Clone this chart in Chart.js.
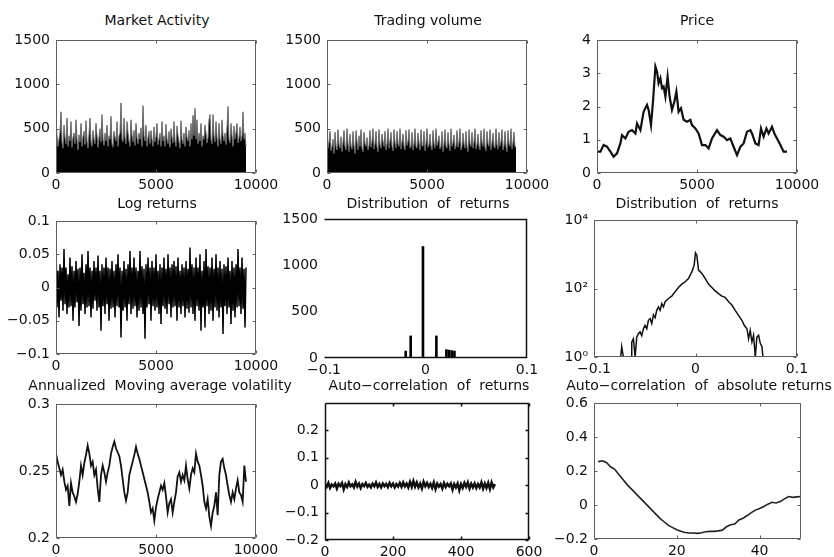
<!DOCTYPE html>
<html>
<head>
<meta charset="utf-8">
<script src="https://cdn.jsdelivr.net/npm/chart.js@4.4.0/dist/chart.umd.min.js"></script>
<style>
  body { margin: 0; background: #fff; }
  #fig { position: relative; width: 834px; height: 557px; overflow: hidden; background: #fff; }
  #fig canvas { position: absolute; }
  .ttl { position: absolute; font: 14px "DejaVu Sans", sans-serif; line-height: 16px; color: #111; white-space: pre; transform: translateX(-50%); }
</style>
</head>
<body>
<div id="fig"></div>
<script>
// ---- data ----
const timeStep = 50;
const activity = [
  610,420,300,380,460,690,350,280,540,400,330,620,300,420,360,580,290,400,450,330,
  600,380,260,430,350,560,300,410,470,320,590,360,280,440,620,350,300,480,380,330,
  560,420,290,400,500,350,660,380,310,450,360,540,300,420,380,640,330,290,470,400,
  360,580,300,420,450,790,380,350,620,400,330,580,450,360,300,600,420,350,480,310,
  560,400,330,450,380,510,300,760,420,360,540,300,400,470,330,480,380,300,520,350,
  410,560,320,380,450,300,580,360,420,300,550,380,330,470,290,500,400,340,580,360,
  300,530,420,350,280,590,380,330,450,300,520,400,360,480,300,560,380,650,420,730,
  380,600,330,450,360,560,300,420,380,540,450,340,400,600,660,380,330,660,420,350,
  580,400,300,560,380,330,600,420,360,450,320,520,750,380,340,560,420,300,530,380,
  450,560,340,400,520,360,420,690,380,450,300];
const volume = [
  430,280,350,470,250,300,380,220,460,300,260,490,320,280,410,240,350,480,300,260,
  500,330,240,440,300,270,470,310,220,480,350,260,420,300,490,280,240,460,330,300,
  400,260,310,480,290,350,500,270,330,470,300,240,490,320,280,440,350,300,470,260,
  330,500,280,360,460,300,250,490,340,280,470,330,300,500,270,350,440,300,260,480,
  310,350,490,280,300,460,260,330,500,300,280,450,340,260,490,310,300,470,250,340,
  500,290,320,440,300,260,480,330,280,500,310,350,420,270,300,470,240,330,490,300,
  280,460,320,250,500,300,340,430,270,310,480,290,350,500,260,300,450,330,280,470,
  300,240,490,330,300,460,280,350,500,270,320,440,300,260,480,340,300,500,290,250,
  470,330,300,490,260,340,450,300,280,500,320,270,460,300,350,490,260,310,470,300,
  240,480,330,300,500,270,340,460,290,300];
const priceX = [0,170,330,500,670,830,1000,1170,1250,1420,1580,1750,1920,2000,2170,2330,2500,2580,2700,2800,
  2920,3000,3080,3170,3250,3330,3420,3530,3630,3750,3870,3970,4080,4200,4330,4500,4670,4750,4920,5080,
  5250,5420,5580,5750,6000,6170,6330,6500,6670,6830,7000,7170,7330,7500,7670,7750,7920,8080,8200,8330,
  8470,8580,8750,8870,9000,9170,9330,9500];
const price = [0.64,0.64,0.84,0.79,0.64,0.49,0.59,0.89,1.14,1.04,1.24,1.29,1.19,1.49,1.29,1.84,2.05,1.9,1.44,2.15,
  3.2,3.05,2.7,2.85,2.55,2.6,2.3,2.9,2.3,1.9,2.15,2.45,1.84,1.95,1.6,1.54,1.6,1.44,1.34,1.19,
  0.84,0.84,0.74,1.04,1.29,1.14,1.09,0.99,1.04,0.79,0.54,0.79,0.89,1.24,1.29,1.19,0.89,0.84,1.34,1.09,
  1.34,1.19,1.39,1.19,1.04,0.84,0.64,0.64];
const logReturns = [
  0.068,-0.03,0.025,-0.045,0.035,-0.02,0.03,-0.035,0.058,-0.025,0.03,-0.04,0.02,-0.03,0.045,-0.028,0.032,-0.05,0.025,-0.03,
  0.04,-0.022,0.028,-0.058,0.03,-0.035,0.05,-0.025,0.022,-0.04,0.035,-0.03,0.055,-0.028,0.03,-0.045,0.025,-0.032,0.04,-0.02,
  0.03,-0.035,0.048,-0.03,0.025,-0.065,0.035,-0.028,0.03,-0.04,0.045,-0.025,0.03,-0.05,0.028,-0.032,0.04,-0.03,0.025,-0.045,
  0.035,-0.028,0.05,-0.03,0.03,-0.075,0.025,-0.035,0.04,-0.03,0.028,-0.05,0.035,-0.025,0.055,-0.04,0.03,-0.032,0.045,-0.028,
  0.03,-0.045,0.025,-0.035,0.055,-0.03,0.032,-0.04,0.028,-0.077,0.035,-0.03,0.045,-0.025,0.03,-0.05,0.04,-0.028,0.03,-0.035,
  0.05,-0.03,0.025,-0.04,0.035,-0.055,0.03,-0.028,0.045,-0.032,0.028,-0.04,0.05,-0.025,0.03,-0.045,0.035,-0.03,0.04,-0.028,
  0.032,-0.05,0.045,-0.03,0.025,-0.04,0.035,-0.028,0.03,-0.045,0.04,-0.032,0.028,-0.038,0.06,-0.03,0.035,-0.04,0.03,-0.05,
  0.045,-0.028,0.03,-0.035,0.05,-0.065,0.025,-0.03,0.04,-0.06,0.058,-0.028,0.032,-0.04,0.03,-0.035,0.045,-0.05,0.028,-0.03,
  0.05,-0.035,0.03,-0.045,0.04,-0.03,0.028,-0.07,0.035,-0.028,0.032,-0.04,0.045,-0.03,0.025,-0.055,0.04,-0.035,0.03,-0.045,
  0.035,-0.03,0.058,-0.028,0.03,-0.04,0.045,-0.032,0.028,-0.06,0.03];
const distX = [-0.0195,-0.0146,-0.0025,0.0107,0.0206,0.0232,0.0258,0.0285];
const distCount = [75,238,1203,238,90,85,80,75];
const logDistX = [-0.0737,-0.0727,-0.0711,-0.07,-0.0633,-0.0628,-0.0612,-0.0595,-0.0579,-0.0563,
  -0.0546,-0.053,-0.0513,-0.0497,-0.048,-0.0464,-0.0447,-0.0431,-0.0414,-0.0398,
  -0.0382,-0.0365,-0.0349,-0.0332,-0.0316,-0.0299,-0.0266,-0.0234,-0.0201,-0.0168,
  -0.0135,-0.0102,-0.0069,-0.0036,-0.0013,0,0.0013,0.003,0.0063,0.0095,
  0.0128,0.0161,0.0194,0.0227,0.026,0.0293,0.0326,0.0359,0.0391,0.0424,
  0.0457,0.048,0.0507,0.0523,0.0539,0.0556,0.0572,0.0589,0.0605,0.0622,
  0.0638,0.0655,0.0664];
const logDistCount = [1,2,1,null,1,2.7,3.4,1,3.8,4.8,
  5.4,4.2,6.7,8.4,6.7,11.8,13.2,9.5,17,14,
  23,29,23,36,29,41,51,60,80,107,
  134,157,196,306,480,1100,940,345,275,196,
  134,107,85,71,60,55,41,33,23,16.5,
  11.8,8.4,6.7,3.4,6,2.75,4.3,1,3.8,4.3,
  2.5,2,1];
const volStep = 83.33;
const volatility = [0.263,0.257,0.252,0.247,0.251,0.242,0.236,0.239,0.224,0.241,
  0.234,0.231,0.227,0.233,0.242,0.254,0.247,0.256,0.262,0.269,
  0.263,0.254,0.257,0.247,0.251,0.237,0.227,0.247,0.254,0.249,
  0.242,0.249,0.254,0.263,0.268,0.272,0.267,0.264,0.261,0.254,
  0.244,0.234,0.228,0.234,0.247,0.252,0.257,0.262,0.268,0.263,
  0.259,0.254,0.249,0.244,0.239,0.234,0.227,0.219,0.222,0.213,
  0.223,0.229,0.234,0.239,0.236,0.241,0.231,0.219,0.226,0.229,
  0.219,0.227,0.234,0.246,0.249,0.242,0.247,0.243,0.254,0.244,
  0.237,0.247,0.252,0.249,0.263,0.257,0.254,0.247,0.239,0.227,
  0.222,0.229,0.216,0.209,0.219,0.224,0.234,0.217,0.247,0.257,
  0.259,0.252,0.247,0.239,0.232,0.227,0.234,0.229,0.237,0.243,
  0.234,0.232,0.227,0.254,0.242];
const lagStep = 5;
const acfReturns = [0.004,-0.006,0.008,-0.01,0.002,-0.004,0.006,-0.012,0.005,-0.003,
  0.008,-0.015,0.004,-0.006,0.01,-0.004,0.003,-0.008,0.012,-0.005,
  0.006,-0.01,0.004,-0.003,0.008,-0.006,0.002,-0.008,0.005,-0.004,
  0.01,-0.006,0.004,-0.008,0.006,-0.003,0.005,-0.007,0.008,-0.004,
  0.006,-0.008,0.004,-0.005,0.008,-0.006,0.01,-0.004,0.006,-0.008,
  0.012,-0.006,0.015,-0.005,0.01,-0.008,0.006,-0.012,0.012,-0.004,
  0.008,-0.006,0.005,-0.01,0.01,-0.014,0.006,-0.005,0.004,-0.012,
  0.008,-0.006,0.005,-0.004,0.006,-0.016,0.004,-0.008,0.006,-0.018,
  0.004,-0.01,0.008,-0.006,0.01,-0.012,0.005,-0.008,0.006,-0.01,
  0.004,-0.008,0.01,-0.012,0.006,-0.01,0.008,-0.014,0.01,-0.008,0.004];
const acfAbs = [0.255,0.26,0.25,0.225,0.21,0.18,0.15,0.12,0.095,0.07,
  0.045,0.02,-0.005,-0.03,-0.055,-0.08,-0.1,-0.12,-0.133,-0.145,
  -0.155,-0.162,-0.165,-0.165,-0.167,-0.163,-0.157,-0.155,-0.155,-0.152,
  -0.148,-0.128,-0.116,-0.112,-0.088,-0.078,-0.062,-0.045,-0.03,-0.02,
  -0.009,0.005,0.016,0.012,0.02,0.036,0.05,0.045,0.048,0.05];

// ---- tick values / labels ----
const ticksTime = [0, 5000, 10000];
const ticksCount = [0, 500, 1000, 1500];
const ticksPrice = [0, 1, 2, 3, 4];
const ticksLogRet = [-0.1, -0.05, 0, 0.05, 0.1];
const ticksRet = [-0.1, 0, 0.1];
const ticksLogCount = [1, 100, 10000];
const logCountLabels = ['10\u2070', '10\u00b2', '10\u2074'];
const ticksVol = [0.2, 0.25, 0.3];
const ticksLag = [0, 200, 400, 600];
const ticksAcf = [-0.2, -0.1, 0, 0.1, 0.2];
const ticksLagAbs = [0, 20, 40];
const ticksAcfAbs = [-0.2, 0, 0.2, 0.4, 0.6];

const fig = document.getElementById('fig');
const YW = 62, XH = 26, PT = 6, PR = 36;

function fmt(v) {
    return String(Math.round(v * 10000) / 10000).replace('-', '\u2212');
}

// matlab-ish box with inward ticks, one plugin per chart
function boxPlugin(o) {
    return {
        id: 'matbox',
        afterDraw(chart) {
            const ctx = chart.ctx, a = chart.chartArea;
            const x = chart.scales.x, y = chart.scales.y;
            const L = a.left + 0.5, R = a.right - 0.5, T = a.top + 0.5, B = a.bottom - 0.5;
            ctx.save();
            ctx.strokeStyle = o.color;
            ctx.lineWidth = o.width;
            ctx.beginPath();
            ctx.moveTo(L, T); ctx.lineTo(R, T);
            ctx.lineTo(R, B); ctx.lineTo(L, B);
            if (!o.noLeft) ctx.lineTo(L, T);
            if (o.ticks) {
                x.ticks.forEach(t => {
                    const px = Math.round(x.getPixelForValue(t.value)) + 0.5;
                    ctx.moveTo(px, B); ctx.lineTo(px, B - 3);
                    ctx.moveTo(px, T); ctx.lineTo(px, T + 3);
                });
                y.ticks.forEach(t => {
                    const py = Math.round(y.getPixelForValue(t.value)) + 0.5;
                    ctx.moveTo(L, py); ctx.lineTo(L + 3, py);
                    ctx.moveTo(R, py); ctx.lineTo(R - 3, py);
                });
            }
            ctx.stroke();
            ctx.restore();
        }
    };
}

function axis(type, min, max, ticks, isX, labels) {
    return {
        type: type, min: min, max: max, offset: false,
        grid: { display: false, drawTicks: false },
        border: { display: false },
        ticks: {
            autoSkip: false, maxRotation: 0, minRotation: 0,
            padding: isX ? 4 : 6,
            color: '#111',
            font: { family: 'DejaVu Sans', size: 14 },
            callback: (v, i) => labels ? labels[i] : fmt(v)
        },
        afterBuildTicks: s => { s.ticks = ticks.map(v => ({ value: v })); },
        afterFit: s => {
            if (isX) s.height = XH; else s.width = YW;
            s.paddingLeft = s.paddingRight = s.paddingTop = s.paddingBottom = 0;
        }
    };
}

function line(points, color, width, fill) {
    return {
        data: points, borderColor: color, borderWidth: width,
        backgroundColor: fill || color, fill: fill ? 'origin' : false,
        pointRadius: 0, tension: 0, spanGaps: false
    };
}

function panel(b, title, tx, ty, type, datasets, xAxis, yAxis, box) {
    const c = document.createElement('canvas');
    c.width = b[2] - b[0] + YW + PR;
    c.height = b[3] - b[1] + PT + XH;
    c.style.left = (b[0] - YW) + 'px';
    c.style.top = (b[1] - PT) + 'px';
    fig.appendChild(c);
    new Chart(c, {
        type: type,
        data: { datasets: datasets },
        options: {
            responsive: false, animation: false, devicePixelRatio: 1,
            layout: { padding: { left: 0, top: PT, right: PR, bottom: 0 } },
            plugins: { legend: { display: false }, tooltip: { enabled: false } },
            scales: { x: xAxis, y: yAxis }
        },
        plugins: [boxPlugin(box)]
    });
    const t = document.createElement('div');
    t.className = 'ttl';
    t.textContent = title;
    t.style.left = tx + 'px';
    t.style.top = ty + 'px';
    fig.appendChild(t);
}

const grayBox = { color: '#5e5e5e', width: 1, ticks: true };

// row 1
panel([56, 40, 256, 173], 'Market Activity', 157, 12, 'line',
    [line(activity.map((v, i) => ({ x: i * timeStep, y: v })), '#6b6b6b', 1, '#000')],
    axis('linear', 0, 10000, ticksTime, true), axis('linear', 0, 1500, ticksCount, false), grayBox);
panel([327, 40, 527, 173], 'Trading volume', 428, 12, 'line',
    [line(volume.map((v, i) => ({ x: i * timeStep, y: v })), '#6b6b6b', 1, '#000')],
    axis('linear', 0, 10000, ticksTime, true), axis('linear', 0, 1500, ticksCount, false), grayBox);
panel([597, 40, 797, 173], 'Price', 697, 12, 'line',
    [line(priceX.map((x, i) => ({ x: x, y: price[i] })), '#111', 2.2)],
    axis('linear', 0, 10000, ticksTime, true), axis('linear', 0, 4, ticksPrice, false), grayBox);

// row 2
panel([56, 221, 256, 354], 'Log returns', 157, 195, 'line',
    [line(logReturns.map((v, i) => ({ x: i * timeStep, y: v })), '#000', 1.5)],
    axis('linear', 0, 10000, ticksTime, true), axis('linear', -0.1, 0.1, ticksLogRet, false), grayBox);
panel([324, 219, 527, 358], 'Distribution  of  returns', 428, 195, 'bar',
    [{ data: distX.map((x, i) => ({ x: x, y: distCount[i] })), backgroundColor: '#000', barThickness: 2 }],
    axis('linear', -0.1, 0.1, ticksRet, true), axis('linear', 0, 1500, ticksCount, false),
    { color: '#111', width: 1.5, ticks: false, noLeft: true });
panel([594, 220, 797, 357], 'Distribution  of  returns', 697, 195, 'line',
    [line(logDistX.map((x, i) => ({ x: x, y: logDistCount[i] })), '#111', 1.5)],
    axis('linear', -0.1, 0.1, ticksRet, true),
    axis('logarithmic', 1, 10000, ticksLogCount, false, logCountLabels), grayBox);

// row 3
panel([56, 404, 256, 538], 'Annualized  Moving average volatility', 160, 377, 'line',
    [line(volatility.map((v, i) => ({ x: i * volStep, y: v })), '#111', 1.8)],
    axis('linear', 0, 10000, ticksTime, true), axis('linear', 0.2, 0.3, ticksVol, false), grayBox);
panel([325, 403, 529, 540], 'Auto\u2212correlation  of  returns', 429, 377, 'line',
    [line(acfReturns.map((v, i) => ({ x: i * lagStep, y: v })), '#111', 2.5)],
    axis('linear', 0, 600, ticksLag, true), axis('linear', -0.2, 0.3, ticksAcf, false),
    { color: '#111', width: 1.5, ticks: true });
panel([594, 403, 801, 539], 'Auto\u2212correlation  of  absolute returns', 699, 377, 'line',
    [line(acfAbs.map((v, i) => ({ x: i + 1, y: v })), '#222', 1.6)],
    axis('linear', 0, 50, ticksLagAbs, true), axis('linear', -0.2, 0.6, ticksAcfAbs, false), grayBox);
</script>
</body>
</html>
